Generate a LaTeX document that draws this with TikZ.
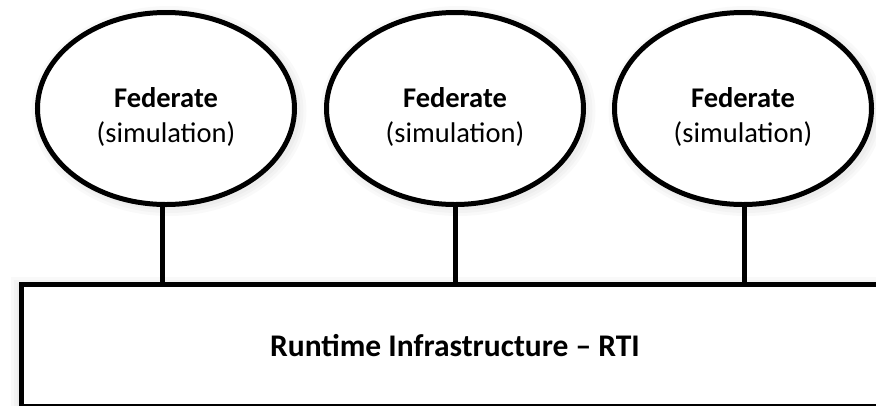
\documentclass[tikz,border=0pt]{standalone}
\usepackage{fontspec}
\setmainfont{Carlito}
\usetikzlibrary{shapes.geometric}
\tikzset{
  fed/.style={ellipse, draw=black, line width=5pt, fill=white,
    minimum width=257pt, minimum height=192pt, inner sep=0pt},
  fedtext/.style={align=center, inner sep=0pt, font=\fontsize{28.5}{35}\selectfont},
  link/.style={line width=5pt, draw=black},
  rtibox/.style={draw=black, line width=5pt, fill=white, anchor=north west,
    minimum width=880pt, minimum height=122pt, inner sep=0pt},
  rtitext/.style={font=\bfseries\fontsize{31.5}{36}\selectfont}
}
\begin{document}
\begin{tikzpicture}[x=1pt,y=-1pt]
\useasboundingbox (0,0) rectangle (876,405);
% soft shadows
\foreach \cx in {166,455,743}{
  \foreach \g in {3,6,9}{
    \fill[black,opacity=0.025] (\cx+3,111) ellipse ({128.5+\g} and {96+\g});
  }
}
\foreach \g in {2,5,8}{
  \fill[black,opacity=0.025] (18.5-\g,285-\g) rectangle (900,420);
}
\node[rtibox] (rti) at (18.5,282) {};
\node[fed] (e1) at (166,108.5) {};
\node[fed] (e2) at (455,108.5) {};
\node[fed] (e3) at (743,108.5) {};
\node[fedtext] (t1) at (166,117) {\textbf{Federate}\\(simulation)};
\node[fedtext] (t2) at (455,117) {\textbf{Federate}\\(simulation)};
\node[fedtext] (t3) at (743,117) {\textbf{Federate}\\(simulation)};
\coordinate (c1) at (162,282);
\coordinate (c2) at (455,282);
\coordinate (c3) at (744,282);
\draw[link] (e1.south -| c1) -- (c1);
\draw[link] (e2.south) -- (c2);
\draw[link] (e3.south -| c3) -- (c3);
\node[rtitext] (rtil) at (455,346) {Runtime Infrastructure – RTI};
\end{tikzpicture}
\end{document}
